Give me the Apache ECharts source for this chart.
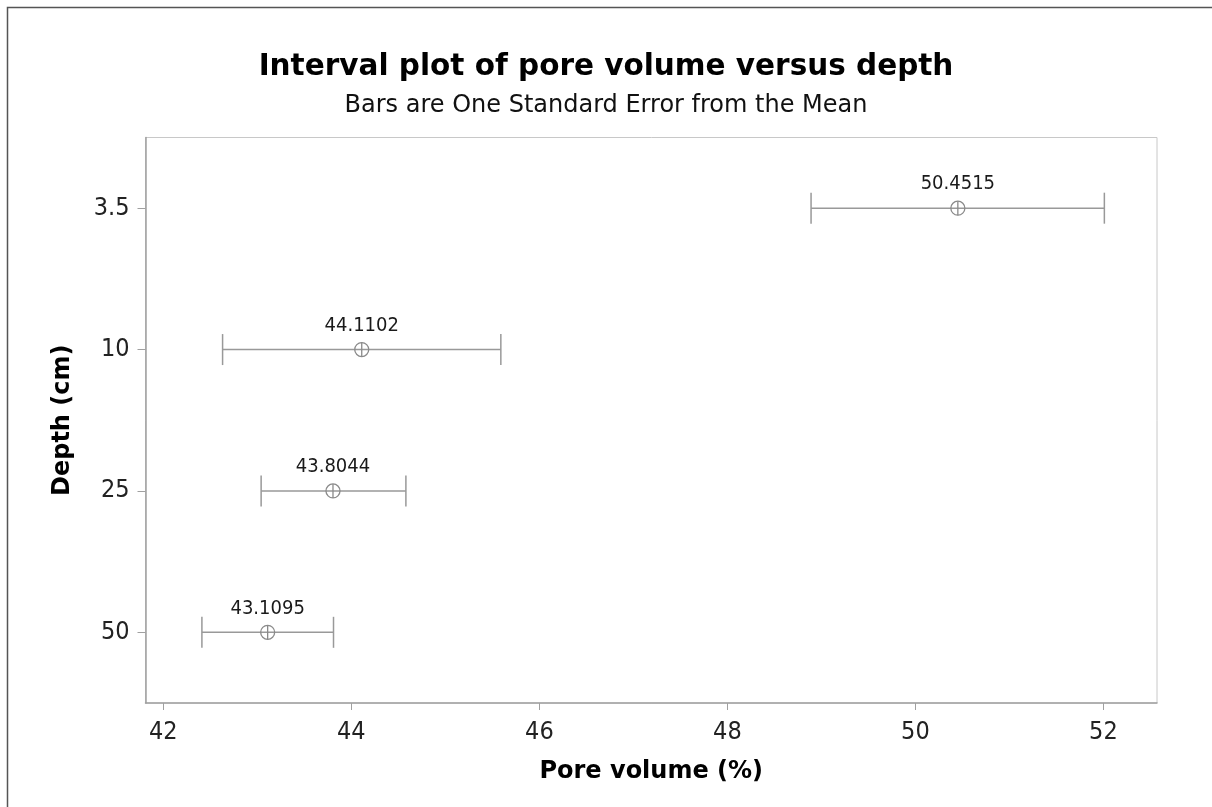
<!DOCTYPE html>
<html><head><meta charset="utf-8">
<script src="https://cdn.jsdelivr.net/npm/echarts@6/dist/echarts.min.js"></script>
<style>html,body{margin:0;padding:0;background:#fff}#c{width:1212px;height:807px}</style>
</head><body><div id="c"></div>
<script>
const depths = ['3.5', '10', '25', '50'];
const means = [50.4515, 44.1102, 43.8044, 43.1095];
const lowers = [48.89, 42.63, 43.04, 42.41];
const uppers = [52.01, 45.59, 44.58, 43.81];
const xTicks = [42, 44, 46, 48, 50, 52];

const FONT = "'DejaVu Sans Condensed', 'DejaVu Sans', sans-serif";
const WIDE = "'DejaVu Sans', sans-serif";
const chart = echarts.init(document.getElementById('c'), null, {renderer: 'canvas'});
const data = depths.map((d, i) => [means[i], i, lowers[i], uppers[i]]);

function renderItem(params, api) {
  const yi = api.value(1);
  const c = api.coord([api.value(0), yi]);
  const l = api.coord([api.value(2), yi]);
  const u = api.coord([api.value(3), yi]);
  const cap = 15.5, r = 7;
  const st = {stroke: '#999', lineWidth: 1.5, fill: null};
  return {
    type: 'group',
    children: [
      {type: 'line', shape: {x1: l[0], y1: l[1], x2: u[0], y2: u[1]}, style: st},
      {type: 'line', shape: {x1: l[0], y1: l[1] - cap, x2: l[0], y2: l[1] + cap}, style: st},
      {type: 'line', shape: {x1: u[0], y1: u[1] - cap, x2: u[0], y2: u[1] + cap}, style: st},
      {type: 'circle', shape: {cx: c[0], cy: c[1], r: r}, style: {stroke: '#8a8a8a', lineWidth: 1.3, fill: 'rgba(255,255,255,0)'}},
      {type: 'line', shape: {x1: c[0], y1: c[1] - r, x2: c[0], y2: c[1] + r}, style: {stroke: '#8a8a8a', lineWidth: 1.3}},
      {type: 'text', x: c[0], y: c[1] - 24, style: {text: String(api.value(0)), align: 'center', verticalAlign: 'middle', fontFamily: FONT, fontSize: 20, fill: '#1a1a1a'}}
    ]
  };
}

const option = {
  backgroundColor: '#fff',
  animation: false,
  graphic: [{type: 'rect', z: -10, shape: {x: 7.5, y: 7.5, width: 1300, height: 900}, style: {stroke: '#555', lineWidth: 1.5, fill: null}}],
  title: {
    text: 'Interval plot of pore volume versus depth',
    subtext: 'Bars are One Standard Error from the Mean',
    left: 'center', top: 47, itemGap: 12,
    textStyle: {fontFamily: WIDE, fontWeight: 'bold', fontSize: 29.5, color: '#000'},
    subtextStyle: {fontFamily: WIDE, fontSize: 24, color: '#111'}
  },
  grid: {left: 145.5, right: 55, top: 137.5, bottom: 104, show: true, borderColor: '#c8c8c8', borderWidth: 1},
  xAxis: {
    type: 'value', min: 41.81, max: 52.57,
    name: 'Pore volume (%)', nameLocation: 'middle', nameGap: 57,
    nameTextStyle: {fontFamily: WIDE, fontWeight: 'bold', fontSize: 24, color: '#000'},
    axisLine: {show: true, lineStyle: {color: '#a0a0a0', width: 1.5}},
    axisTick: {show: true, length: 7, customValues: xTicks, lineStyle: {color: '#a0a0a0'}},
    axisLabel: {customValues: xTicks, margin: 17, fontFamily: FONT, fontSize: 25, color: '#222'},
    splitLine: {show: false}
  },
  yAxis: {
    type: 'category', data: depths, inverse: true,
    name: 'Depth (cm)', nameLocation: 'middle', nameGap: 71,
    nameTextStyle: {fontFamily: WIDE, fontWeight: 'bold', fontSize: 24, color: '#000'},
    axisLine: {show: true, lineStyle: {color: '#a0a0a0', width: 1.5}},
    axisTick: {show: true, length: 8, alignWithLabel: true, lineStyle: {color: '#a0a0a0'}},
    axisLabel: {margin: 16, fontFamily: FONT, fontSize: 25, color: '#222'},
    splitLine: {show: false}
  },
  series: [{type: 'custom', renderItem: renderItem, data: data, encode: {x: [0, 2, 3], y: 1}}]
};
chart.setOption(option);
</script>
</body></html>
